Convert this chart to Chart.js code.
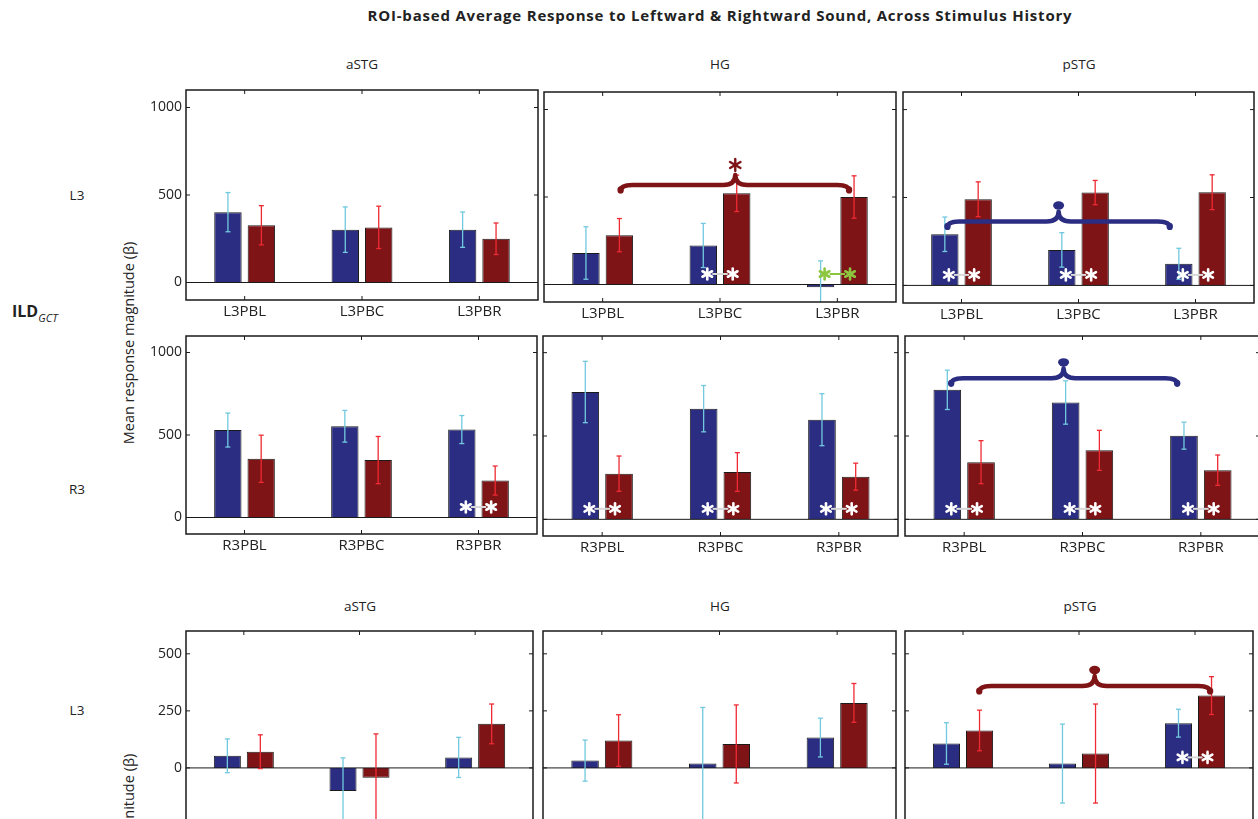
<!DOCTYPE html>
<html>
<head>
<meta charset="utf-8">
<title>ROI-based Average Response</title>
<script src="https://cdn.jsdelivr.net/npm/chart.js@4.4.1/dist/chart.umd.min.js"></script>
<style>
  html, body { margin: 0; padding: 0; background: #fff; }
  #fig { position: relative; width: 1258px; height: 819px; overflow: hidden; font-family: 'Open Sans', sans-serif; color: #222; }
  #fig canvas { position: absolute; }
  .lbl { position: absolute; white-space: nowrap; transform: translate(-50%, -50%); font-size: 13.5px; }
  .main { font-weight: bold; font-size: 15px; letter-spacing: 0.8px; }
  .ild { position: absolute; left: 12px; top: 300px; font-size: 16px; font-weight: bold; white-space: nowrap; }
  .ild sub { font-size: 11px; font-weight: normal; font-style: italic; vertical-align: -5px; }
  .ytitle { position: absolute; white-space: nowrap; font-size: 14.5px; transform: translate(-50%, -50%) rotate(-90deg); }
</style>
</head>
<body>
<div id="fig">
  <div class="lbl main" style="left:720px;top:15px">ROI-based Average Response to Leftward &amp; Rightward Sound, Across Stimulus History</div>

  <div class="lbl" style="left:362px;top:64px">aSTG</div>
  <div class="lbl" style="left:720px;top:64px">HG</div>
  <div class="lbl" style="left:1079px;top:64px">pSTG</div>
  <div class="lbl" style="left:360px;top:606px">aSTG</div>
  <div class="lbl" style="left:720px;top:606px">HG</div>
  <div class="lbl" style="left:1080px;top:606px">pSTG</div>

  <div class="lbl" style="left:77px;top:195px">L3</div>
  <div class="lbl" style="left:77px;top:489px">R3</div>
  <div class="lbl" style="left:77px;top:710px">L3</div>
  <div class="ild">ILD<sub>GCT</sub></div>
  <div class="ytitle" style="left:128px;top:343px">Mean response magnitude (β)</div>
  <div class="ytitle" style="left:128px;top:855px">Mean response magnitude (β)</div>
</div>

<script>
// categories and tick values
const catsL3 = ['L3PBL', 'L3PBC', 'L3PBR'];
const catsR3 = ['R3PBL', 'R3PBC', 'R3PBR'];
const ticksWide = [0, 500, 1000];
const ticksNarrow = [-500, -250, 0, 250, 500];

// first block, L3 row (leftward = blue, rightward = red), SEM as error
const astgL3Left = [402, 302, 302];
const astgL3LeftErr = [112, 130, 101];
const astgL3Right = [327, 315, 250];
const astgL3RightErr = [112, 121, 90];
const hgL3Left = [180, 223, -15];
const hgL3LeftErr = [150, 126, 150];
const hgL3Right = [282, 521, 500];
const hgL3RightErr = [95, 104, 121];
const pstgL3Left = [291, 202, 123];
const pstgL3LeftErr = [98, 98, 88];
const pstgL3Right = [490, 528, 530];
const pstgL3RightErr = [99, 69, 99];

// first block, R3 row
const astgR3Left = [530, 553, 533];
const astgR3LeftErr = [103, 96, 85];
const astgR3Right = [356, 348, 224];
const astgR3RightErr = [143, 143, 88];
const hgR3Left = [764, 664, 598];
const hgR3LeftErr = [184, 139, 156];
const hgR3Right = [274, 284, 256];
const hgR3RightErr = [106, 116, 81];
const pstgR3Left = [777, 701, 502];
const pstgR3LeftErr = [118, 130, 81];
const pstgR3Right = [343, 414, 295];
const pstgR3RightErr = [129, 120, 91];

// second block, L3 row
const astgB2Left = [53, -101, 46];
const astgB2LeftErr = [74, 145, 88];
const astgB2Right = [71, -43, 193];
const astgB2RightErr = [74, 192, 87];
const hgB2Left = [32, 19, 133];
const hgB2LeftErr = [90, 246, 85];
const hgB2Right = [120, 105, 285];
const hgB2RightErr = [113, 171, 85];
const pstgB2Left = [107, 19, 196];
const pstgB2LeftErr = [91, 173, 61];
const pstgB2Right = [164, 63, 317];
const pstgB2RightErr = [89, 217, 83];

// left vs right significance (category index, colour)
const hgL3Sig = [[1, '#ffffff'], [2, '#8cc63f']];
const pstgL3Sig = [[0, '#ffffff'], [1, '#ffffff'], [2, '#ffffff']];
const astgR3Sig = [[2, '#ffffff']];
const hgR3Sig = [[0, '#ffffff'], [1, '#ffffff'], [2, '#ffffff']];
const pstgR3Sig = [[0, '#ffffff'], [1, '#ffffff'], [2, '#ffffff']];
const pstgB2Sig = [[2, '#ffffff']];

const BLUE = '#2b2d82';
const RED = '#7f1417';
const BLUE_ERR = '#72c9df';
const RED_ERR = '#ee2a33';

// across-history braces: from/to/peak in category units, level in data units
const hgL3Brace = { from: 0.153, to: 2.10, peak: 1.13, level: 569, color: RED, mark: 'star' };
const pstgL3Brace = { from: -0.12, to: 1.78, peak: 0.83, level: 364, color: BLUE, mark: 'dot' };
const pstgR3Brace = { from: -0.11, to: 1.80, peak: 0.84, level: 846, color: BLUE, mark: 'dot' };
const pstgB2Brace = { from: 0.14, to: 2.13, peak: 1.135, level: 359, color: RED, mark: 'dot' };

const AX_L = 60, AX_B = 30, PAD_T = 8, PAD_R = 8;

const panels = [
  { box: [186, 90, 538, 300], yr: [-100, 1100], ticks: ticksWide, cats: catsL3, yLabels: true, xLabels: true,
    left: astgL3Left, leftErr: astgL3LeftErr, right: astgL3Right, rightErr: astgL3RightErr, sig: [], braces: [] },
  { box: [544, 92, 896, 302], yr: [-100, 1100], ticks: ticksWide, cats: catsL3, yLabels: false, xLabels: true,
    left: hgL3Left, leftErr: hgL3LeftErr, right: hgL3Right, rightErr: hgL3RightErr, sig: hgL3Sig, braces: [hgL3Brace] },
  { box: [903, 92, 1254, 303], yr: [-100, 1100], ticks: ticksWide, cats: catsL3, yLabels: false, xLabels: true,
    left: pstgL3Left, leftErr: pstgL3LeftErr, right: pstgL3Right, rightErr: pstgL3RightErr, sig: pstgL3Sig, braces: [pstgL3Brace] },

  { box: [186, 336, 537, 534], yr: [-100, 1100], ticks: ticksWide, cats: catsR3, yLabels: true, xLabels: true,
    left: astgR3Left, leftErr: astgR3LeftErr, right: astgR3Right, rightErr: astgR3RightErr, sig: astgR3Sig, braces: [] },
  { box: [543, 336, 898, 536], yr: [-100, 1100], ticks: ticksWide, cats: catsR3, yLabels: false, xLabels: true,
    left: hgR3Left, leftErr: hgR3LeftErr, right: hgR3Right, rightErr: hgR3RightErr, sig: hgR3Sig, braces: [] },
  { box: [905, 336, 1260, 536], yr: [-100, 1100], ticks: ticksWide, cats: catsR3, yLabels: false, xLabels: true,
    left: pstgR3Left, leftErr: pstgR3LeftErr, right: pstgR3Right, rightErr: pstgR3RightErr, sig: pstgR3Sig, braces: [pstgR3Brace] },

  { box: [186, 631, 533, 882], yr: [-500, 600], ticks: ticksNarrow, cats: catsL3, yLabels: true, xLabels: true,
    left: astgB2Left, leftErr: astgB2LeftErr, right: astgB2Right, rightErr: astgB2RightErr, sig: [], braces: [] },
  { box: [543, 631, 896, 882], yr: [-500, 600], ticks: ticksNarrow, cats: catsL3, yLabels: false, xLabels: true,
    left: hgB2Left, leftErr: hgB2LeftErr, right: hgB2Right, rightErr: hgB2RightErr, sig: [], braces: [] },
  { box: [905, 631, 1253, 882], yr: [-500, 600], ticks: ticksNarrow, cats: catsL3, yLabels: false, xLabels: true,
    left: pstgB2Left, leftErr: pstgB2LeftErr, right: pstgB2Right, rightErr: pstgB2RightErr, sig: pstgB2Sig, braces: [pstgB2Brace] }
];

function seg(ctx, x1, y1, x2, y2) {
  ctx.beginPath();
  ctx.moveTo(x1, y1);
  ctx.lineTo(x2, y2);
  ctx.stroke();
}

function star(ctx, cx, cy, r, color, lw) {
  ctx.strokeStyle = color;
  ctx.lineWidth = lw;
  ctx.lineCap = 'round';
  for (let k = 0; k < 3; k++) {
    const a = Math.PI / 2 + k * Math.PI / 3;
    seg(ctx, cx - r * Math.cos(a), cy - r * Math.sin(a), cx + r * Math.cos(a), cy + r * Math.sin(a));
  }
}

function brace(ctx, x1, x2, xm, y, color, mark) {
  const d = 6, h = 10, r = 12;
  ctx.strokeStyle = color;
  ctx.lineWidth = 4.5;
  ctx.lineCap = 'round';
  ctx.lineJoin = 'round';
  ctx.beginPath();
  ctx.moveTo(x1, y + d);
  ctx.quadraticCurveTo(x1, y, x1 + r, y);
  ctx.lineTo(xm - r, y);
  ctx.quadraticCurveTo(xm, y, xm, y - h);
  ctx.quadraticCurveTo(xm, y, xm + r, y);
  ctx.lineTo(x2 - r, y);
  ctx.quadraticCurveTo(x2, y, x2, y + d);
  ctx.stroke();
  // heavier tips at both ends
  ctx.fillStyle = color;
  [x1, x2].forEach(xe => {
    ctx.beginPath();
    ctx.ellipse(xe, y + d - 1, 3.2, 3.6, 0, 0, Math.PI * 2);
    ctx.fill();
  });
  if (mark === 'dot') {
    ctx.beginPath();
    ctx.ellipse(xm, y - h - 6, 5.5, 4.2, 0, 0, Math.PI * 2);
    ctx.fill();
  } else {
    star(ctx, xm, y - h - 10, 6, color, 2.4);
  }
}

// error bars, zero line, significance marks, braces and the boxed axes
function decor(p) {
  return {
    id: 'decor',
    afterDatasetsDraw(chart) {
      const { ctx, chartArea: a, scales: { x, y } } = chart;
      ctx.save();
      ctx.beginPath();
      ctx.rect(a.left, a.top, a.right - a.left, a.bottom - a.top);
      ctx.clip();

      const y0 = y.getPixelForValue(0);
      ctx.strokeStyle = '#1a1a1a';
      ctx.lineWidth = 1;
      seg(ctx, a.left, y0, a.right, y0);

      [[p.left, p.leftErr, BLUE_ERR], [p.right, p.rightErr, RED_ERR]].forEach(([vals, errs, col], di) => {
        const meta = chart.getDatasetMeta(di);
        meta.data.forEach((bar, i) => {
          const cx = bar.x;
          const yt = y.getPixelForValue(vals[i] + errs[i]);
          const yb = y.getPixelForValue(vals[i] - errs[i]);
          ctx.strokeStyle = col;
          ctx.lineWidth = 1.3;
          ctx.lineCap = 'butt';
          seg(ctx, cx, yt, cx, yb);
          seg(ctx, cx - 2.5, yt, cx + 2.5, yt);
          seg(ctx, cx - 2.5, yb, cx + 2.5, yb);
        });
      });

      const lMeta = chart.getDatasetMeta(0), rMeta = chart.getDatasetMeta(1);
      p.sig.forEach(([i, col]) => {
        const xa = lMeta.data[i].x + 4, xb = rMeta.data[i].x - 4, ys = y0 - 10.5;
        ctx.strokeStyle = col === '#ffffff' ? '#d9d9d9' : col;
        ctx.lineWidth = 2;
        ctx.lineCap = 'butt';
        seg(ctx, xa + 5, ys, xb - 5, ys);
        star(ctx, xa, ys, 5.5, col, 2.6);
        star(ctx, xb, ys, 5.5, col, 2.6);
      });

      const x0 = x.getPixelForValue(0), step = x.getPixelForValue(1) - x0;
      p.braces.forEach(b => {
        brace(ctx, x0 + b.from * step, x0 + b.to * step, x0 + b.peak * step,
          y.getPixelForValue(b.level), b.color, b.mark);
      });
      ctx.restore();

      // box with inward ticks
      ctx.save();
      ctx.strokeStyle = '#1a1a1a';
      ctx.lineWidth = 1.5;
      ctx.strokeRect(a.left, a.top, a.right - a.left, a.bottom - a.top);
      ctx.lineWidth = 1;
      p.ticks.forEach(v => {
        const py = y.getPixelForValue(v);
        if (py < a.top || py > a.bottom) return;
        seg(ctx, a.left, py, a.left + 4, py);
        seg(ctx, a.right - 4, py, a.right, py);
      });
      p.cats.forEach((c, i) => {
        const px = x.getPixelForValue(i);
        seg(ctx, px, a.top, px, a.top + 4);
        seg(ctx, px, a.bottom - 4, px, a.bottom);
      });
      ctx.restore();
    }
  };
}

function zeroPad(s) {
  s.paddingLeft = 0; s.paddingRight = 0; s.paddingTop = 0; s.paddingBottom = 0;
}

const fig = document.getElementById('fig');
panels.forEach(p => {
  const [L, T, R, B] = p.box;
  const w = (R - L) + AX_L + PAD_R;
  const h = (B - T) + PAD_T + AX_B;
  const cv = document.createElement('canvas');
  cv.width = w; cv.height = h;
  cv.style.width = w + 'px'; cv.style.height = h + 'px';
  cv.style.left = (L - AX_L) + 'px';
  cv.style.top = (T - PAD_T) + 'px';
  fig.appendChild(cv);

  new Chart(cv, {
    type: 'bar',
    data: {
      labels: p.cats,
      datasets: [
        { data: p.left, backgroundColor: BLUE, borderColor: '#1b1b1b', borderWidth: 1 },
        { data: p.right, backgroundColor: RED, borderColor: '#1b1b1b', borderWidth: 1 }
      ]
    },
    options: {
      responsive: false,
      animation: false,
      devicePixelRatio: 1,
      layout: { padding: { left: 0, top: PAD_T, right: PAD_R, bottom: 0 } },
      datasets: { bar: { categoryPercentage: 0.57, barPercentage: 0.82 } },
      plugins: { legend: { display: false }, tooltip: { enabled: false }, title: { display: false } },
      scales: {
        x: {
          grid: { display: false, drawTicks: false },
          border: { display: false },
          ticks: { display: p.xLabels, color: '#222', font: { family: 'Open Sans', size: 15 }, padding: 3, maxRotation: 0, autoSkip: false },
          afterFit(s) { s.height = AX_B; zeroPad(s); }
        },
        y: {
          min: p.yr[0],
          max: p.yr[1],
          grid: { display: false, drawTicks: false },
          border: { display: false },
          afterBuildTicks(s) { s.ticks = p.ticks.map(v => ({ value: v })); },
          ticks: { display: p.yLabels, color: '#222', font: { family: 'Open Sans', size: 14 }, padding: 4,
            callback: v => String(v) },
          afterFit(s) { s.width = AX_L; zeroPad(s); }
        }
      }
    },
    plugins: [decor(p)]
  });
});
</script>
</body>
</html>
